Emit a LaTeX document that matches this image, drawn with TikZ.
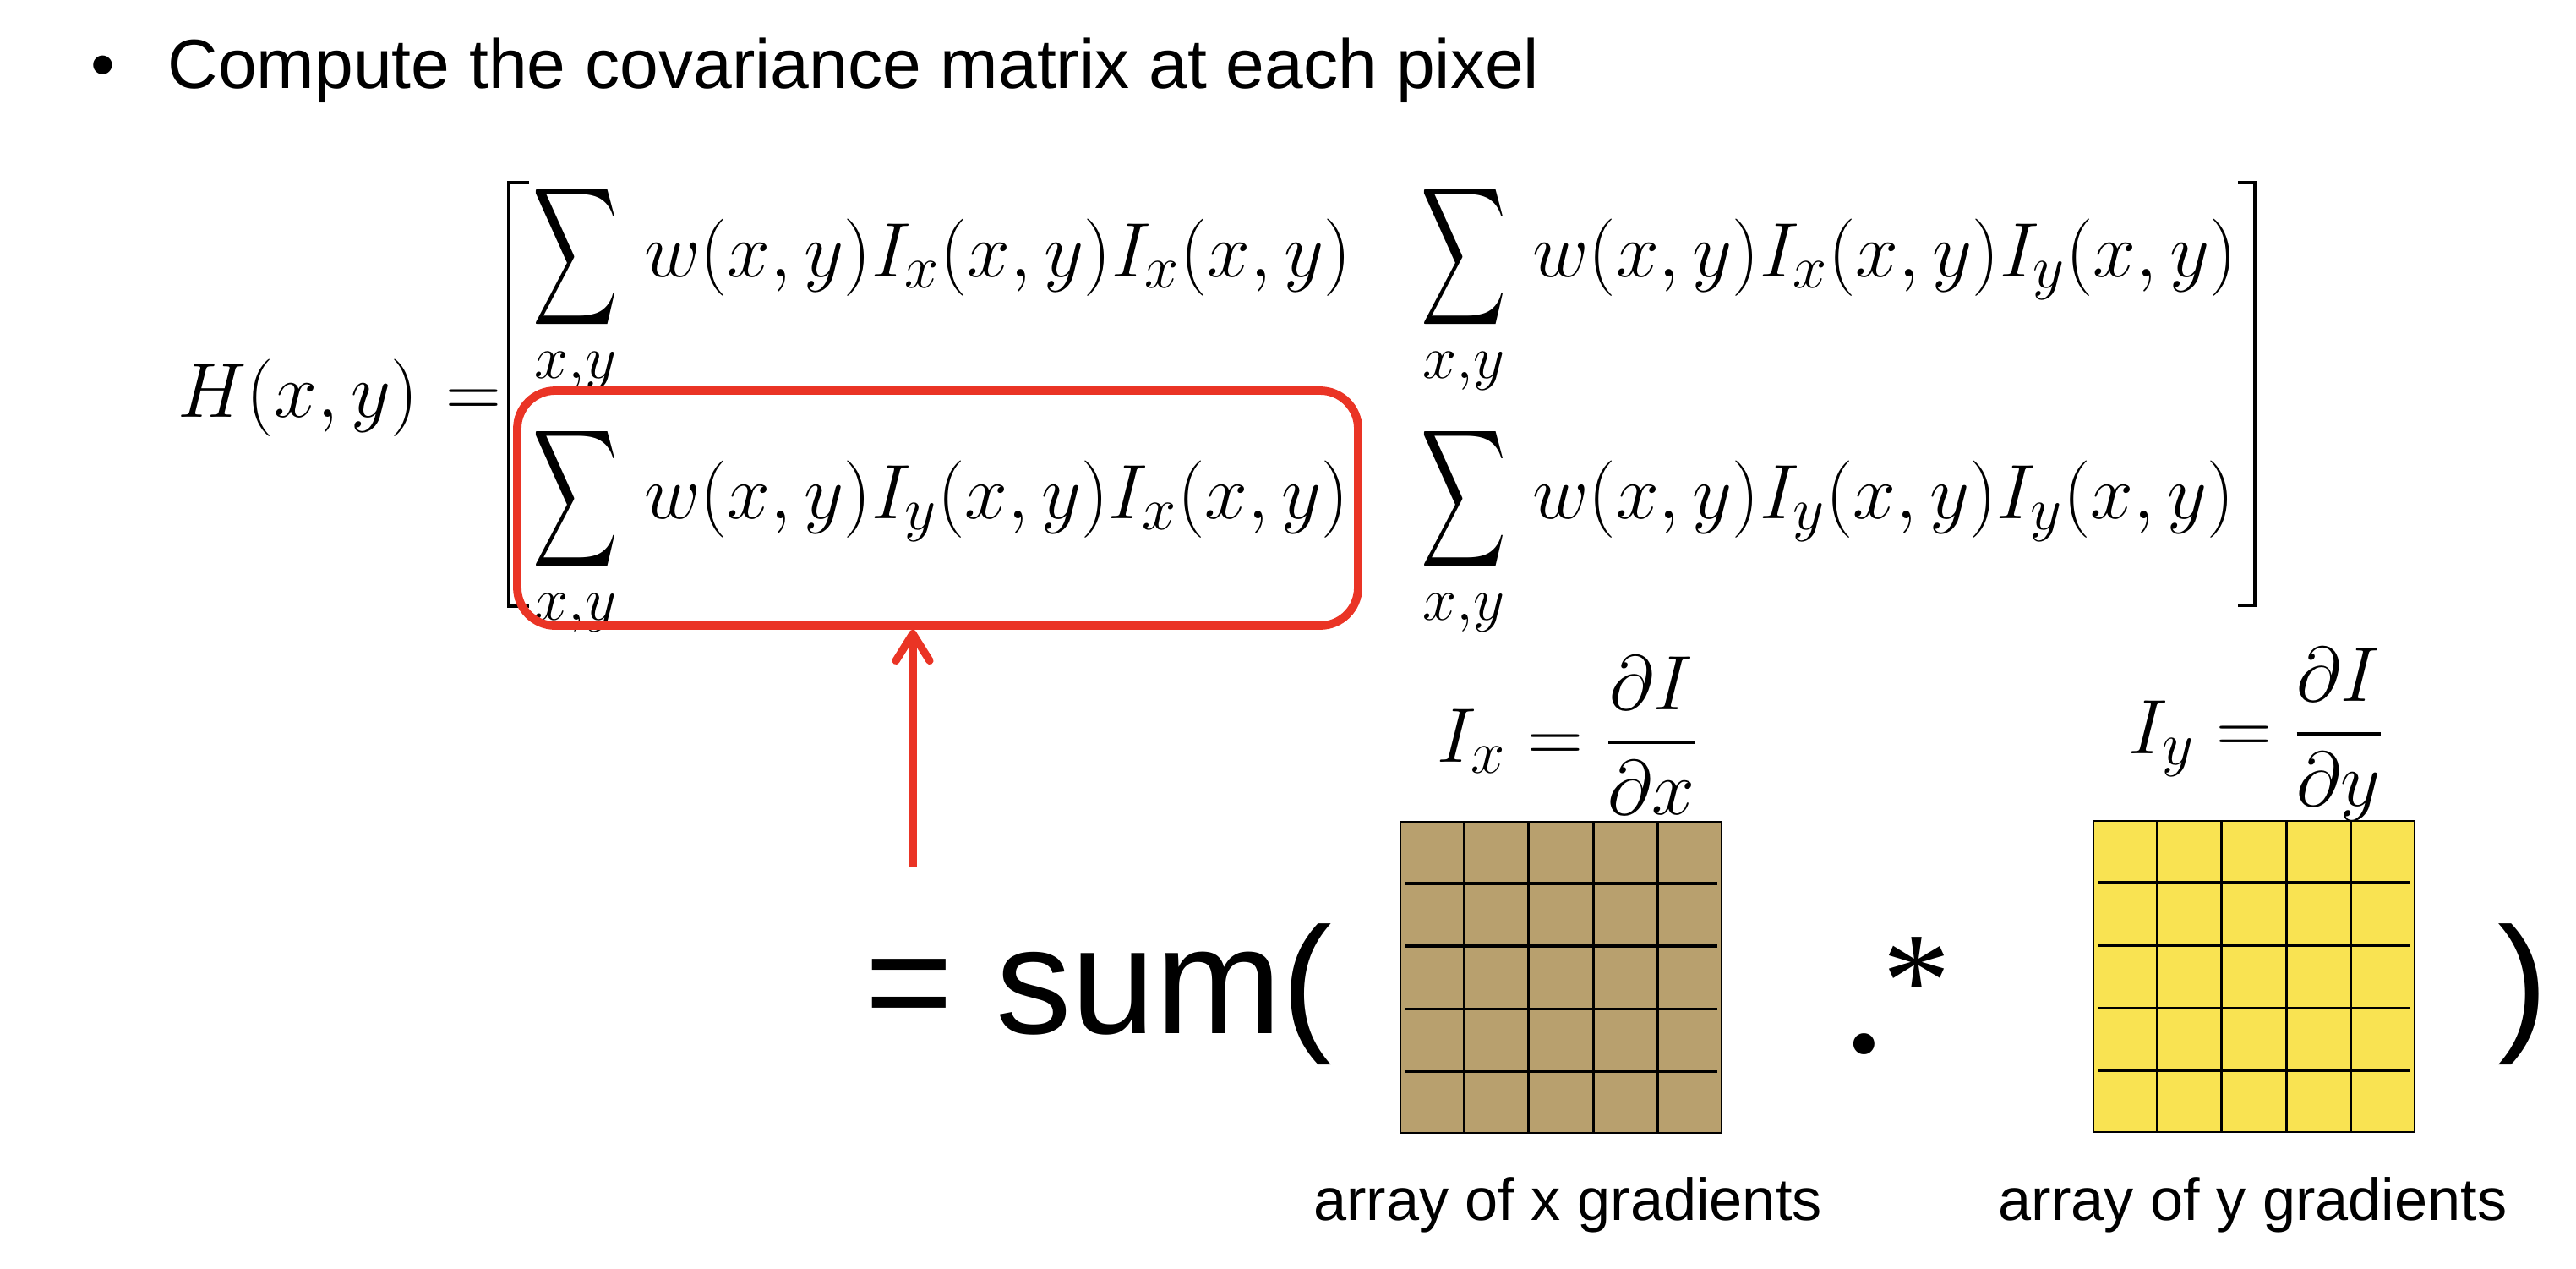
\RequirePackage{fix-cm}
\documentclass[tikz,border=0pt]{standalone}
\usepackage{amsmath}
\usepackage{graphicx}
\usepackage[no-math]{fontspec}
\setmainfont{Liberation Sans}
\newfontfamily\serifx{Liberation Serif}
\usetikzlibrary{arrows.meta,calc}
\DeclareMathSizes{26}{26}{20.5}{15}
\definecolor{hlred}{RGB}{234,52,37}
\definecolor{gbrown}{RGB}{184,160,110}
\definecolor{gyellow}{RGB}{249,227,82}
\newcommand{\Sm}{\mathop{\vcenter{\hbox{\scalebox{0.8}[1.3]{$\displaystyle\sum$}}}}\limits_{x,y}}
\begin{document}
\begin{tikzpicture}[x=1cm,y=1cm,
  mth/.style={inner sep=0pt, font=\fontsize{26}{31}\selectfont},
  head/.style={inner sep=0pt, font=\fontsize{23.4}{28}\selectfont},
  big/.style={inner sep=0pt, font=\fontsize{51}{60}\selectfont},
  lab/.style={inner sep=0pt, font=\fontsize{20}{24}\selectfont},
  gridbox/.style={draw, line width=0.6pt, minimum width=3.80cm, minimum height=3.68cm, inner sep=0pt},
  gline/.style={line width=0.9pt},
  brk/.style={line width=1.2pt},
]
\useasboundingbox (0,0) rectangle (30.48,-15);
% heading
\node[head, anchor=base] (bul) at (1.22,-1.04) {•};
\node[head, anchor=base west] (title) at (1.98,-1.04) {Compute the covariance matrix at each pixel};
% matrix
\node[mth, anchor=base west] (H) at (2.10,-4.93) {$H(x,y)\mkern1.5mu=$};
\draw[brk] (6.26,-2.16) -- (6.02,-2.16) -- (6.02,-7.17) -- (6.26,-7.17);
\draw[brk] (26.48,-2.16) -- (26.68,-2.16) -- (26.68,-7.16) -- (26.48,-7.16);
\node[mth, anchor=base west] (a11) at (6.30,-3.27) {$\Sm\, w(x,y)I_x(x,y)I_x(x,y)$};
\node[mth, anchor=base west] (a12) at (16.81,-3.27) {$\Sm\, w(x,y)I_x(x,y)I_y(x,y)$};
\node[mth, anchor=base west] (a21) at (6.30,-6.13) {$\Sm\, w(x,y)I_y(x,y)I_x(x,y)$};
\node[mth, anchor=base west] (a22) at (16.81,-6.13) {$\Sm\, w(x,y)I_y(x,y)I_y(x,y)$};
% highlight box and arrow
\node[draw=hlred, line width=2.8pt, rounded corners=0.45cm, minimum width=9.95cm, minimum height=2.78cm, inner sep=0pt] (hl) at (11.095,-6.01) {};
\coordinate (arw) at (10.80,-10.26);
\draw[hlred, line width=2.6pt, -{Straight Barb[length=3.2mm,width=4.0mm,round]}] (arw) -- (arw |- hl.south);
% bottom expression
\node[big, anchor=base west] (sum) at (10.23,-12.22) {= sum(};
\node[big, anchor=base west] (cp) at (29.55,-12.22) {)};
\node[inner sep=0pt, font=\serifx\fontsize{60}{70}\selectfont, anchor=base] (dot) at (22.06,-12.44) {.};
\node[inner sep=0pt, font=\serifx\fontsize{46}{54}\selectfont, anchor=base] (star) at (22.68,-12.14) {*};
% derivative formulas
\node[mth, anchor=base west] (ix) at (17.00,-9.01) {$I_x = \dfrac{\partial I}{\partial x}$};
\node[mth, anchor=base west] (iy) at (25.18,-8.91) {$I_y = \dfrac{\partial I}{\partial y}$};
% grids
\node[gridbox, fill=gbrown, anchor=north west] (gx) at (16.56,-9.71) {};
\node[gridbox, fill=gyellow, anchor=north west] (gy) at (24.76,-9.70) {};
\foreach \g in {gx,gy} {
  \foreach \k in {1,...,4} {
    \draw[gline] ($(\g.north west)!\k/5!(\g.north east)$) -- ($(\g.south west)!\k/5!(\g.south east)$);
    \draw[gline] ($(\g.north west)!\k/5!(\g.south west)+(0.06,0)$) -- ($(\g.north east)!\k/5!(\g.south east)+(-0.06,0)$);
  }
}
% labels
\node[lab, anchor=base] (lx) at (18.55,-14.43) {array of x gradients};
\node[lab, anchor=base] (ly) at (26.655,-14.43) {array of y gradients};
\end{tikzpicture}
\end{document}
